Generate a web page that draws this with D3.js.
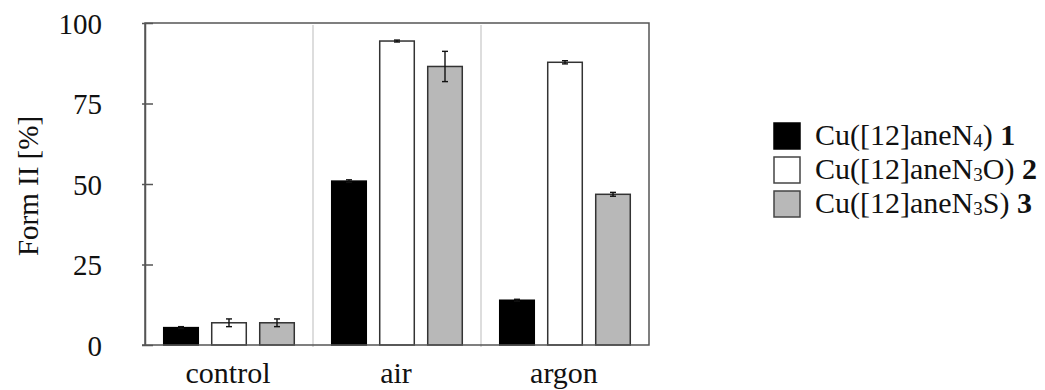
<!DOCTYPE html>
<html>
<head>
<meta charset="utf-8">
<script src="https://cdn.jsdelivr.net/npm/d3@7"></script>
<style>
  body { margin: 0; background: #fff; }
  svg text { font-family: "Liberation Serif", "Times New Roman", serif; fill: #111; }
</style>
</head>
<body>
<svg id="chart" width="1045" height="390"></svg>
<script>
// conditions on the x axis
const categories = ['control', 'air', 'argon'];
// complexes: legend text pieces (plain, subscript, plain) and bold number
const seriesKeys = ['cu1', 'cu2', 'cu3'];
const seriesText = [['Cu([12]aneN', '4', ')'], ['Cu([12]aneN', '3', 'O)'], ['Cu([12]aneN', '3', 'S)']];
const seriesNum = ['1', '2', '3'];
const seriesColors = ['#000000', '#ffffff', '#b8b8b8'];

// Form II [%] per condition
const cu1 = [5.4, 50.9, 13.9];
const cu2 = [6.9, 94.4, 87.8];
const cu3 = [6.9, 86.5, 46.8];
// error bars
const cu1Err = [0.3, 0.4, 0.3];
const cu2Err = [1.2, 0.3, 0.5];
const cu3Err = [1.2, 4.7, 0.6];

const yTicks = [0, 25, 50, 75, 100];

const values = [cu1, cu2, cu3];
const errors = [cu1Err, cu2Err, cu3Err];

const data = [];
categories.forEach((c, i) => {
  seriesKeys.forEach((k, j) => {
    data.push({ cat: c, key: k, value: values[j][i], err: errors[j][i], color: seriesColors[j] });
  });
});

const margin = { top: 23, left: 145, right: 649, bottom: 345 };
const svg = d3.select('#chart');

const x0 = d3.scaleBand()
  .domain(categories)
  .range([margin.left, margin.right])
  .padding(0);

const x1 = d3.scaleBand()
  .domain(seriesKeys)
  .range([0, x0.bandwidth()])
  .paddingInner(0.28)
  .paddingOuter(0.39);

const y = d3.scaleLinear()
  .domain([0, 100])
  .range([margin.bottom, margin.top]);

// separators between the groups
svg.append('g')
  .selectAll('line')
  .data(categories.slice(1))
  .enter().append('line')
  .attr('x1', d => x0(d))
  .attr('x2', d => x0(d))
  .attr('y1', margin.top + 2)
  .attr('y2', margin.bottom + 2)
  .attr('stroke', '#d2d2d2')
  .attr('stroke-width', 1.5);

// bars
svg.append('g')
  .selectAll('rect')
  .data(data)
  .enter().append('rect')
  .attr('x', d => x0(d.cat) + x1(d.key))
  .attr('y', d => y(d.value))
  .attr('width', x1.bandwidth())
  .attr('height', d => y(0) - y(d.value))
  .attr('fill', d => d.color)
  .attr('stroke', d => d.color === '#000000' ? '#000' : '#333')
  .attr('stroke-width', 1.5);

// error bars
const eb = svg.append('g')
  .attr('stroke', '#111')
  .attr('stroke-width', 1.4)
  .selectAll('g')
  .data(data)
  .enter().append('g');

eb.append('line')
  .attr('x1', d => x0(d.cat) + x1(d.key) + x1.bandwidth() / 2)
  .attr('x2', d => x0(d.cat) + x1(d.key) + x1.bandwidth() / 2)
  .attr('y1', d => y(d.value + d.err))
  .attr('y2', d => y(d.value - d.err));

[1, -1].forEach(s => {
  eb.append('line')
    .attr('x1', d => x0(d.cat) + x1(d.key) + x1.bandwidth() / 2 - 3)
    .attr('x2', d => x0(d.cat) + x1(d.key) + x1.bandwidth() / 2 + 3)
    .attr('y1', d => y(d.value + s * d.err))
    .attr('y2', d => y(d.value + s * d.err));
});

// frame
svg.append('rect')
  .attr('x', margin.left)
  .attr('y', margin.top)
  .attr('width', margin.right - margin.left)
  .attr('height', margin.bottom - margin.top)
  .attr('fill', 'none')
  .attr('stroke', '#555')
  .attr('stroke-width', 1.5);

// y axis
const yAxis = svg.append('g')
  .attr('transform', `translate(${margin.left},0)`)
  .call(d3.axisLeft(y).tickValues(yTicks).tickSizeInner(-8).tickSizeOuter(0).tickPadding(43));

yAxis.select('.domain').attr('stroke', '#555').attr('stroke-width', 1.5);
yAxis.selectAll('.tick line')
  .attr('x1', -3)
  .attr('x2', 8)
  .attr('stroke', '#555')
  .attr('stroke-width', 1.5);
yAxis.selectAll('.tick text')
  .attr('font-size', 29)
  .attr('fill', '#111')
  .style('font-family', '"Liberation Serif", serif')
  .attr('dy', '0.35em');

// bottom extension at 0
svg.append('line')
  .attr('x1', margin.left - 3)
  .attr('x2', margin.left)
  .attr('y1', y(0))
  .attr('y2', y(0))
  .attr('stroke', '#555')
  .attr('stroke-width', 1.5);

// x labels
svg.append('g')
  .selectAll('text')
  .data(categories)
  .enter().append('text')
  .attr('x', d => x0(d) + x0.bandwidth() / 2 - 1)
  .attr('y', 383)
  .attr('text-anchor', 'middle')
  .attr('font-size', 30)
  .text(d => d);

// y title
svg.append('text')
  .attr('transform', 'translate(38,186) rotate(-90)')
  .attr('text-anchor', 'middle')
  .attr('font-size', 29)
  .text('Form II [%]');

// legend
const legend = svg.append('g')
  .selectAll('g')
  .data(seriesKeys)
  .enter().append('g')
  .attr('transform', (d, i) => `translate(774,${123 + i * 34})`);

legend.append('rect')
  .attr('width', 26)
  .attr('height', 26)
  .attr('fill', (d, i) => seriesColors[i])
  .attr('stroke', (d, i) => i === 0 ? '#000' : '#444')
  .attr('stroke-width', 1.5);

const lt = legend.append('text')
  .attr('x', 41)
  .attr('y', 22)
  .attr('font-size', 30);

lt.append('tspan').text((d, i) => seriesText[i][0]);
lt.append('tspan').attr('font-size', 19).attr('dy', 2).text((d, i) => seriesText[i][1]);
lt.append('tspan').attr('dy', -2).text((d, i) => seriesText[i][2] + ' ');
lt.append('tspan').attr('font-weight', 'bold').text((d, i) => seriesNum[i]);
</script>
</body>
</html>
